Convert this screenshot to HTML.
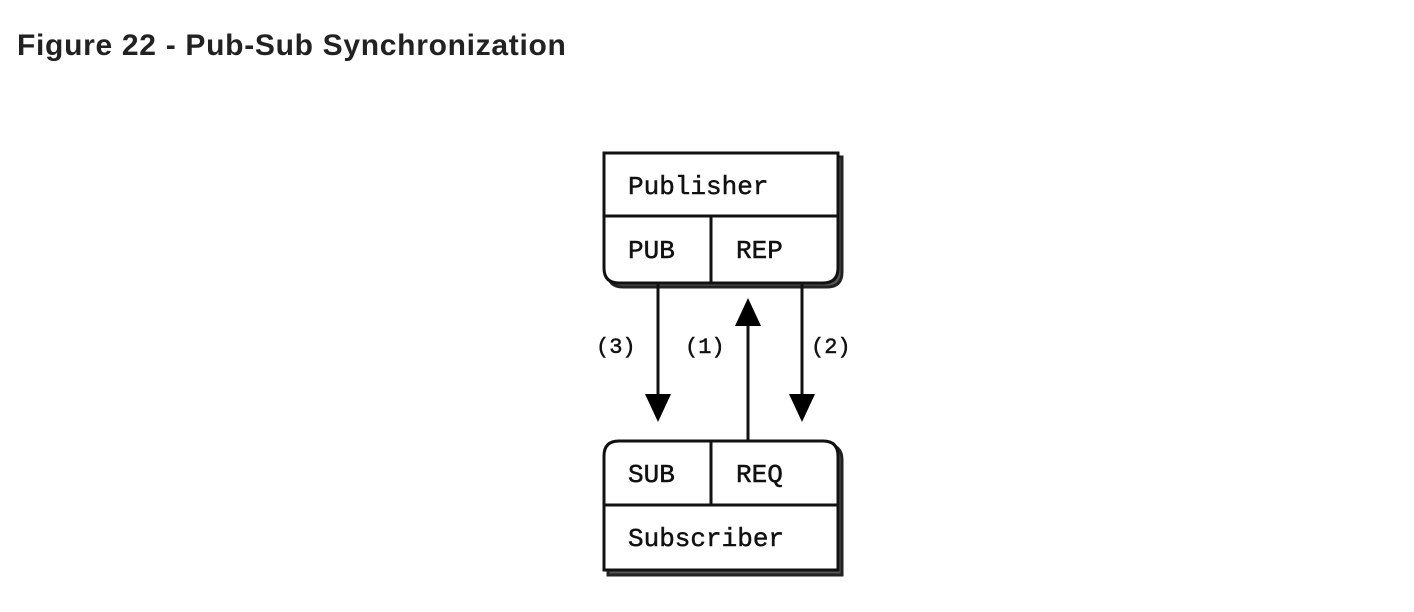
<!DOCTYPE html>
<html><head><meta charset="utf-8"><style>
html,body{margin:0;padding:0;background:#fff;width:1414px;height:612px;overflow:hidden}
h1{position:absolute;left:17px;top:29px;margin:0;font:bold 30px "Liberation Sans",sans-serif;letter-spacing:0.7px;color:#222}
</style></head><body>
<h1>Figure 22 - Pub-Sub Synchronization</h1>
<svg width="1414" height="612" style="position:absolute;left:0;top:0">
<g fill="none" stroke="#111" stroke-width="3">
<path d="M608 157 H842 V272 Q842 287 827 287 H623 Q608 287 608 272 Z" fill="#555" stroke="#222"/>
<path d="M604 153 H838 V268 Q838 283 823 283 H619 Q604 283 604 268 Z" fill="#fff"/>
<line x1="604" y1="216" x2="838" y2="216"/>
<line x1="711" y1="216" x2="711" y2="283"/>
<path d="M608 575 H842 V460 Q842 445 827 445 H623 Q608 445 608 460 Z" fill="#555" stroke="#222"/>
<path d="M604 570 H838 V456 Q838 441 823 441 H619 Q604 441 604 456 Z" fill="#fff"/>
<line x1="604" y1="505" x2="838" y2="505"/>
<line x1="711" y1="441" x2="711" y2="505"/>
<line x1="658" y1="283" x2="658" y2="398"/>
<line x1="802" y1="283" x2="802" y2="398"/>
<line x1="748" y1="320" x2="748" y2="441"/>
</g>
<g fill="#000">
<polygon points="645,394 671,394 658,422"/>
<polygon points="789,394 815,394 802,422"/>
<polygon points="735,326 761,326 748,298"/>
</g>
<g font-family="Liberation Mono,monospace" font-size="26" fill="#111" stroke="#111" stroke-width="0.5">
<text x="628" y="194">Publisher</text>
<text x="628" y="258">PUB</text>
<text x="736" y="258">REP</text>
<text x="628" y="482">SUB</text>
<text x="736" y="482">REQ</text>
<text x="628" y="546">Subscriber</text>
<text x="596" y="353" font-size="22">(3)</text>
<text x="685" y="353" font-size="22">(1)</text>
<text x="811" y="353" font-size="22">(2)</text>
</g>
</svg>
</body></html>
